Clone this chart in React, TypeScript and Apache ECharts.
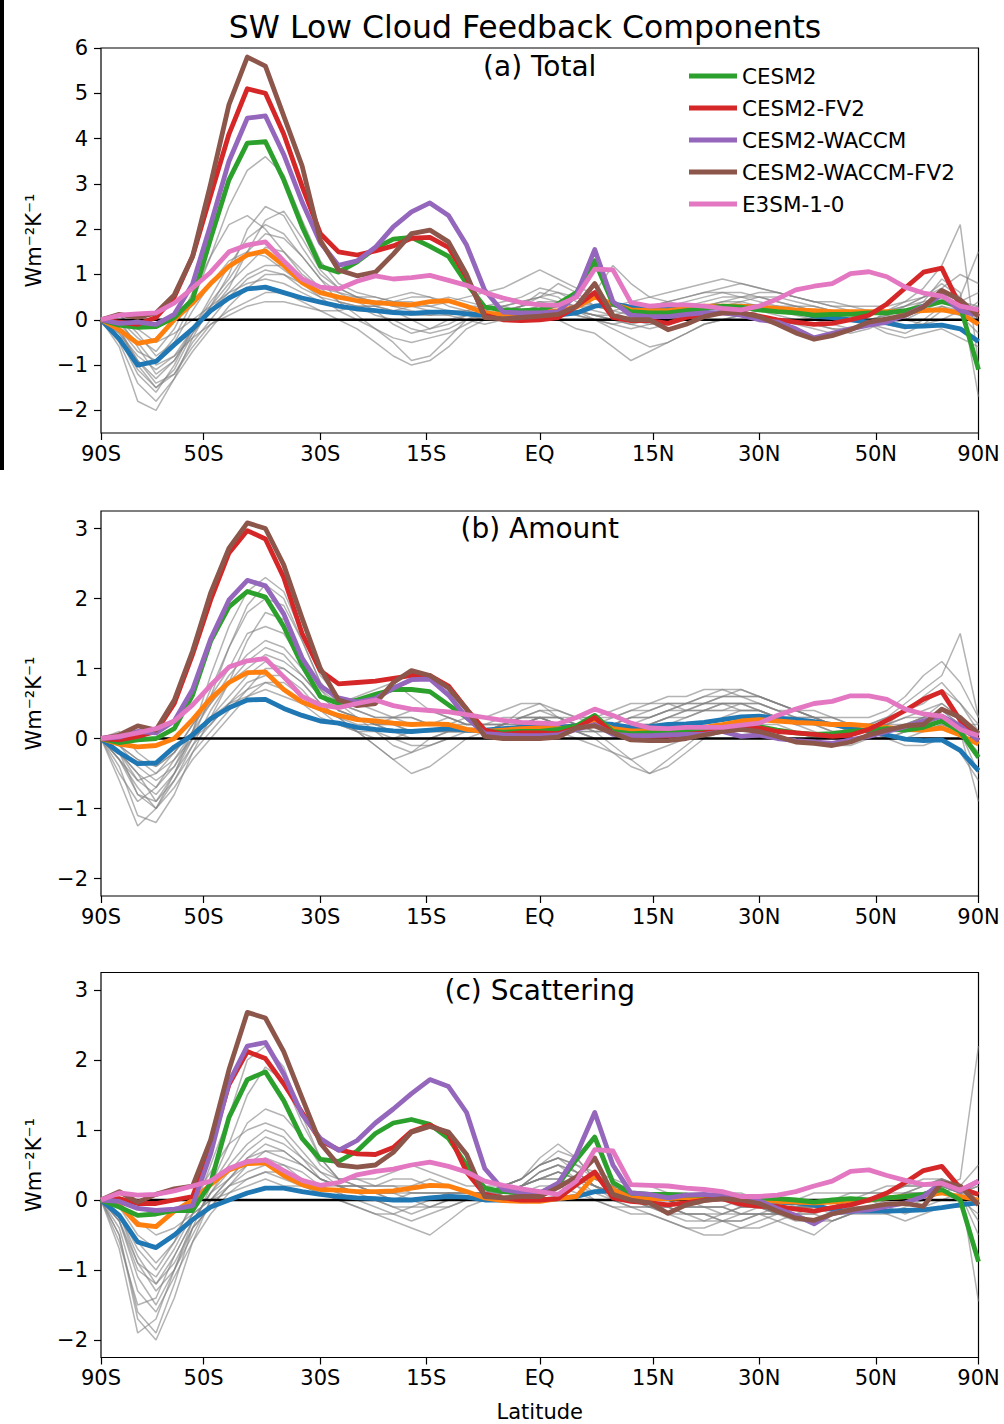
import React, { useEffect, useRef } from "react";
import * as echarts from "echarts";

// latitude grid (degrees), roughly evenly spaced in sin(latitude)
const lats = [-90,-73.4,-66.4,-61.0,-56.4,-52.3,-48.6,-45.1,-41.8,-38.7,-35.7,-32.8,-30,-27.3,-24.6,-22.0,-19.5,-17.0,-14.5,-12.0,-9.6,-7.2,-4.8,-2.4,0,2.4,4.8,7.2,9.6,12.0,14.5,17.0,19.5,22.0,24.6,27.3,30,32.8,35.7,38.7,41.8,45.1,48.6,52.3,56.4,61.0,66.4,73.4,90];

const latTicks = [-90,-50,-30,-15,0,15,30,50,90];
const latTickLabels = ["90S","50S","30S","15S","EQ","15N","30N","50N","90N"];
const yTicksTotal = [-2,-1,0,1,2,3,4,5,6];
const yTicksComp = [-2,-1,0,1,2,3];

const modelNames = ["CESM2","CESM2-FV2","CESM2-WACCM","CESM2-WACCM-FV2","E3SM-1-0"];
const modelColors = ["#2ca02c","#d62728","#9467bd","#8c564b","#e377c2"];
const panelTitles = ["(a) Total","(b) Amount","(c) Scattering"];

// ---------- (a) Total ----------
const blueTotal = [0,-0.42,-1.0,-0.92,-0.55,-0.2, 0.2,0.48,0.68,0.72,0.6,0.48, 0.39,0.3,0.24,0.2,0.16,0.14, 0.17,0.17,0.13,0.1,0.07,0.07, 0.07, 0.1,0.15,0.3,0.35,0.28,0.25, 0.23,0.25,0.25,0.27,0.3,0.28, 0.22,0.18,0.08,0.05,0.0,-0.05, -0.07,-0.15,-0.14,-0.12,-0.2,-0.48];
const orangeTotal = [0,-0.22,-0.52,-0.45,0.0,0.37, 0.8,1.18,1.43,1.52,1.2,0.82, 0.6,0.5,0.42,0.38,0.35,0.33, 0.4,0.42,0.3,0.15,0.12,0.15, 0.17, 0.2,0.28,0.5,0.35,0.22,0.2, 0.2,0.25,0.3,0.3,0.3,0.28, 0.25,0.22,0.2,0.18,0.18,0.18, 0.18,0.18,0.2,0.22,0.15,-0.1];
const cesm2Total = [0,-0.12,-0.17,-0.15,0.05,0.45, 1.79,3.09,3.9,3.93,3.09,2.06, 1.18,1.05,1.28,1.58,1.78,1.82, 1.62,1.4,0.8,0.28,0.22,0.2, 0.22, 0.35,0.6,1.3,0.35,0.18,0.15, 0.15,0.2,0.25,0.3,0.28,0.22, 0.18,0.15,0.1,0.12,0.12,0.15, 0.15,0.2,0.3,0.4,0.3,-1.1];
const fv2Total = [0,-0.05,-0.1,0.05,0.5,1.4, 2.75,4.1,5.1,5.0,4.1,2.95, 1.9,1.5,1.43,1.52,1.63,1.8, 1.82,1.6,0.95,0.1,0.0,-0.02, 0.0, 0.05,0.3,0.6,0.05,-0.02,-0.02, -0.08,0.05,0.12,0.15,0.15,0.08, 0.0,-0.05,-0.1,-0.08,0.0,0.1, 0.35,0.7,1.05,1.14,0.3,0.15];
const waccmTotal = [0,-0.08,-0.05,-0.1,0.12,0.79, 2.1,3.5,4.45,4.5,3.65,2.6, 1.7,1.2,1.3,1.6,2.05,2.38, 2.58,2.3,1.65,0.65,0.17,0.15, 0.15, 0.18,0.55,1.55,0.4,0.1,0.07, 0.07,0.12,0.15,0.15,0.1,0.0, -0.05,-0.2,-0.4,-0.3,-0.2,-0.12, -0.05,0.1,0.3,0.55,0.2,0.1];
const waccmFv2Total = [0,0.12,0.05,0.15,0.55,1.4, 3.0,4.75,5.8,5.6,4.5,3.4, 1.75,1.1,0.97,1.05,1.45,1.9, 1.98,1.72,1.0,0.05,0.02,0.05, 0.08, 0.12,0.3,0.8,0.1,0.0,0.0, -0.22,-0.1,0.07,0.15,0.15,0.07, -0.1,-0.29,-0.43,-0.35,-0.22,-0.05, 0.02,0.1,0.28,0.65,0.44,0.07];
const e3smTotal = [0,0.1,0.13,0.15,0.37,0.7, 1.05,1.5,1.65,1.72,1.3,0.9, 0.72,0.68,0.85,0.97,0.9,0.93, 0.98,0.87,0.76,0.6,0.48,0.38, 0.33, 0.32,0.5,1.12,1.1,0.38,0.3, 0.33,0.33,0.3,0.25,0.22,0.3, 0.46,0.66,0.74,0.8,1.02,1.06, 0.95,0.72,0.59,0.52,0.3,0.22];
const grayTotal = [
  [0,-0.4,-1.2,-1.6,-1.0,-0.2, 0.5,1.2,1.8,2.1,1.9,1.4,0.9, 0.6,0.4,0.2,-0.1,-0.3,-0.2,0.0,0.1, 0.2,0.3,0.4,0.5,0.6,0.5,0.3, 0.2,0.1,0.0,-0.1,0.0,0.2,0.3,0.4,0.5,0.5,0.4,0.3,0.2,0.1,0.0, 0.1,0.2,0.3,0.6,0.4,0.3],
  [0,-0.6,-1.8,-2.0,-1.3,-0.4, 0.3,1.0,2.0,2.5,2.3,1.6,1.0, 0.7,0.5,0.3,0.2,0.0,-0.2,-0.1,0.1, 0.1,0.0,0.1,0.2,0.3,0.2,0.1, 0.0,-0.1,-0.2,-0.1,0.1,0.2,0.3,0.3,0.2,0.1,0.0,-0.1,-0.2,-0.3,-0.2, 0.0,0.2,0.4,0.9,0.6,-1.7],
  [0,-0.2,-0.7,-0.9,-0.4,0.4, 1.4,2.5,3.3,3.6,3.2,2.2,1.3, 0.8,0.6,0.5,0.4,0.3,0.4,0.5,0.4, 0.3,0.2,0.3,0.5,0.8,0.6,0.3, 0.2,0.3,0.3,0.4,0.5,0.6,0.7,0.8,0.7,0.6,0.5,0.4,0.3,0.2,0.1, 0.2,0.3,0.5,0.8,0.5,1.5],
  [0,-0.3,-0.9,-1.4,-1.2,-0.6, -0.1,0.2,0.4,0.6,0.6,0.4,0.2, 0.0,-0.2,-0.5,-0.8,-1.0,-0.9,-0.6,-0.2, 0.0,0.1,0.3,0.6,0.5,0.2,0.0, -0.2,-0.4,-0.6,-0.5,-0.3,-0.1,0.0,0.1,0.2,0.2,0.1,0.0,-0.1,-0.2,-0.1, 0.0,0.1,0.2,0.4,0.2,0.0],
  [0,0.1,-0.3,-0.8,-0.5,0.2, 0.8,1.3,1.5,1.4,1.1,0.8,0.6, 0.5,0.5,0.4,0.5,0.6,0.5,0.3,0.2, 0.1,0.2,0.3,0.4,0.4,0.3,0.2, 0.1,0.2,0.3,0.4,0.5,0.6,0.6,0.5,0.5,0.4,0.3,0.3,0.2,0.2,0.1, 0.2,0.3,0.4,0.5,0.3,0.2],
  [0,-0.2,-1.0,-1.5,-1.1,-0.3, 0.2,0.7,1.5,2.2,2.4,1.8,1.1, 0.7,0.5,0.4,0.3,0.3,0.2,0.1,0.0, -0.1,0.0,0.2,0.3,0.2,0.1,0.0, -0.1,0.0,0.1,0.2,0.3,0.3,0.2,0.1,0.1,0.0,-0.1,-0.2,-0.3,-0.2,-0.1, 0.2,0.4,0.7,1.2,2.1,-1.0],
  [0,-0.5,-1.4,-1.8,-1.3,-0.7, -0.2,0.3,0.7,1.0,1.0,0.8,0.5, 0.2,0.0,-0.2,-0.4,-0.5,-0.4,-0.3,-0.1, 0.1,0.2,0.2,0.3,0.3,0.2,0.1, 0.0,-0.1,0.0,0.1,0.2,0.3,0.4,0.4,0.3,0.3,0.2,0.1,0.1,0.0,-0.1, -0.2,-0.3,-0.1,0.2,0.1,0.4],
  [0,0.1,-0.2,-0.5,-0.3,0.0, 0.3,0.6,0.8,0.9,0.8,0.6,0.4, 0.3,0.2,0.2,0.2,0.3,0.3,0.4,0.5, 0.6,0.7,0.9,1.1,0.9,0.7,0.6, 1.2,0.8,0.5,0.4,0.3,0.3,0.4,0.5,0.6,0.6,0.5,0.4,0.4,0.3,0.3, 0.3,0.4,0.5,0.7,1.0,0.8],
  [0,-0.1,-0.5,-1.0,-0.8,-0.2, 0.4,0.9,1.5,1.9,1.8,1.4,0.9, 0.4,0.1,-0.2,-0.5,-0.9,-0.8,-0.4,0.0, 0.2,0.3,0.2,0.1,0.0,-0.2,-0.3, -0.6,-0.9,-0.7,-0.5,-0.3,-0.1,0.0,0.1,0.2,0.3,0.3,0.2,0.1,0.0,0.0, -0.1,-0.2,0.0,0.3,0.2,0.1],
  [0,0.0,-0.6,-1.2,-0.9,-0.3, 0.2,0.6,1.0,1.2,1.2,0.9,0.6, 0.5,0.4,0.4,0.3,0.2,0.1,0.1,0.2, 0.3,0.3,0.4,0.5,0.4,0.3,0.3, 0.3,0.4,0.5,0.6,0.7,0.8,0.9,0.8,0.7,0.6,0.5,0.4,0.3,0.3,0.2, 0.1,0.0,-0.1,0.0,0.2,0.3],
  [0,-0.3,-0.8,-1.1,-0.8,-0.4, -0.1,0.1,0.3,0.4,0.4,0.3,0.2, 0.2,0.3,0.3,0.2,0.1,0.1,0.2,0.2, 0.1,0.0,0.0,0.1,0.2,0.1,0.0, -0.1,-0.2,-0.1,0.0,0.1,0.1,0.2,0.2,0.1,0.0,-0.1,-0.1,-0.2,-0.2,-0.1, -0.3,-0.4,-0.3,-0.2,-0.4,-0.6],
  [0,0.0,-0.4,-0.7,-0.2,0.6, 1.4,2.1,2.3,2.0,1.5,1.0,0.7, 0.6,0.5,0.5,0.4,0.4,0.3,0.2,0.1, 0.0,0.1,0.1,0.2,0.3,0.2,0.1, 0.1,0.0,-0.1,-0.1,0.0,0.1,0.2,0.3,0.3,0.2,0.2,0.1,0.0,0.0,0.1, 0.2,0.2,0.3,0.4,0.3,0.2],
  [0,-0.2,-0.9,-1.3,-0.9,-0.2, 0.3,0.8,1.2,1.6,1.5,1.1,0.7, 0.4,0.3,0.1,0.0,-0.2,-0.3,-0.2,0.0, 0.1,0.2,0.3,0.4,0.3,0.2,0.1, 0.0,0.1,0.2,0.3,0.3,0.4,0.5,0.5,0.4,0.3,0.2,0.2,0.1,0.0,-0.1, -0.1,0.0,0.2,0.3,0.1,-0.3],
  [0,-0.4,-1.1,-1.5,-1.2,-0.5, 0.0,0.5,0.9,1.1,1.0,0.7,0.5, 0.4,0.3,0.3,0.4,0.5,0.5,0.4,0.3, 0.3,0.4,0.5,0.7,0.6,0.4,0.3, 0.3,0.2,0.2,0.3,0.4,0.5,0.6,0.6,0.5,0.4,0.3,0.2,0.1,0.1,0.0, 0.1,0.3,0.5,0.6,0.4,0.6]
];

// ---------- (b) Amount ----------
const blueAmount = [0,-0.2,-0.36,-0.35,-0.12,0.05, 0.28,0.44,0.55,0.56,0.43,0.33, 0.25,0.22,0.16,0.13,0.11,0.1, 0.12,0.14,0.12,0.12,0.14,0.16, 0.17, 0.16,0.18,0.22,0.2,0.16,0.17, 0.2,0.21,0.23,0.27,0.31,0.32, 0.29,0.27,0.24,0.2,0.15,0.1, 0.05,-0.01,-0.03,-0.02,-0.17,-0.46];
const orangeAmount = [0,-0.08,-0.12,-0.1,0.0,0.27, 0.57,0.8,0.94,0.95,0.7,0.52, 0.42,0.33,0.27,0.25,0.22,0.2, 0.21,0.2,0.13,0.1,0.12,0.14, 0.15, 0.14,0.16,0.25,0.14,0.11,0.11, 0.12,0.13,0.16,0.2,0.25,0.27, 0.25,0.23,0.22,0.2,0.2,0.18, 0.16,0.13,0.12,0.15,0.05,-0.08];
const cesm2Amount = [0,-0.06,-0.02,0.0,0.14,0.62, 1.39,1.88,2.1,2.02,1.6,1.05, 0.6,0.5,0.55,0.63,0.7,0.7, 0.67,0.48,0.3,0.1,0.09,0.1, 0.1, 0.13,0.18,0.33,0.1,0.07,0.08, 0.08,0.1,0.12,0.15,0.16,0.17, 0.12,0.08,0.06,0.07,0.1,0.12, 0.14,0.12,0.16,0.25,0.1,-0.27];
const fv2Amount = [0,-0.02,0.03,0.1,0.5,1.2, 1.98,2.65,2.97,2.85,2.3,1.5, 0.97,0.78,0.8,0.82,0.86,0.9, 0.9,0.75,0.42,0.12,0.06,0.08, 0.08, 0.07,0.15,0.3,0.07,0.02,0.03, 0.04,0.06,0.08,0.12,0.15,0.15, 0.1,0.08,0.06,0.03,0.05,0.13, 0.26,0.4,0.56,0.67,0.26,-0.03];
const waccmAmount = [0,0.02,0.1,0.08,0.25,0.7, 1.42,1.98,2.26,2.18,1.78,1.15, 0.75,0.58,0.52,0.57,0.72,0.84, 0.85,0.62,0.3,0.07,0.05,0.04, 0.04, 0.05,0.13,0.2,0.06,0.04,0.04, 0.05,0.06,0.06,0.1,0.03,0.05, 0.0,-0.03,-0.05,-0.07,-0.02,0.03, 0.1,0.17,0.25,0.32,0.18,-0.03];
const waccmFv2Amount = [0,0.05,0.18,0.12,0.55,1.25, 2.08,2.72,3.08,3.0,2.48,1.72, 1.0,0.55,0.47,0.5,0.8,0.97, 0.9,0.72,0.42,0.03,0.0,0.0, 0.0, 0.02,0.15,0.18,0.08,-0.02,-0.03, -0.03,0.0,0.05,0.1,0.13,0.1, 0.03,-0.05,-0.07,-0.1,-0.05,0.05, 0.12,0.18,0.2,0.42,0.3,0.07];
const e3smAmount = [0,0.03,0.08,0.14,0.25,0.48, 0.76,1.02,1.11,1.14,0.88,0.6, 0.48,0.44,0.5,0.55,0.47,0.42, 0.4,0.38,0.34,0.3,0.26,0.23, 0.22, 0.21,0.3,0.42,0.33,0.22,0.15, 0.14,0.16,0.16,0.16,0.19,0.22, 0.33,0.42,0.5,0.53,0.61,0.61, 0.56,0.42,0.35,0.32,0.13,0.04];
const grayAmount = [
  [0,-0.4,-1.1,-1.2,-0.8,-0.2, 0.3,0.8,1.4,1.8,1.7,1.2,0.7, 0.4,0.3,0.2,0.1,0.0,0.0,0.1,0.1, 0.1,0.2,0.2,0.3,0.3,0.2,0.2, 0.2,0.3,0.3,0.4,0.4,0.5,0.5,0.5,0.4,0.3,0.3,0.2,0.2,0.2,0.1, 0.1,0.2,0.3,0.4,0.2,-0.3],
  [0,-0.2,-0.6,-0.8,-0.5,0.1, 0.9,1.6,2.1,2.3,2.1,1.5,0.9, 0.6,0.5,0.4,0.3,0.3,0.2,0.2,0.2, 0.2,0.2,0.3,0.3,0.2,0.2,0.1, 0.1,0.2,0.3,0.4,0.5,0.5,0.6,0.6,0.5,0.4,0.3,0.3,0.2,0.2,0.2, 0.3,0.5,0.7,0.9,1.5,0.3],
  [0,-0.1,-0.4,-0.6,-0.4,0.0, 0.3,0.6,0.9,1.1,1.0,0.8,0.5, 0.3,0.1,-0.1,-0.3,-0.5,-0.4,-0.2,0.0, 0.1,0.2,0.4,0.5,0.3,0.2,0.1, -0.1,-0.3,-0.5,-0.4,-0.2,0.0,0.1,0.2,0.3,0.3,0.2,0.1,0.0,0.0,0.0, 0.0,0.1,0.2,0.3,0.1,-0.9],
  [0,-0.3,-0.7,-1.0,-0.7,-0.3, 0.0,0.3,0.6,0.8,0.8,0.6,0.4, 0.3,0.2,0.2,0.1,0.1,0.1,0.1,0.1, 0.1,0.1,0.2,0.2,0.2,0.1,0.1, 0.1,0.2,0.2,0.3,0.3,0.4,0.4,0.4,0.4,0.3,0.3,0.2,0.2,0.1,0.1, 0.0,0.0,0.1,0.2,0.1,0.0],
  [0,-0.2,-0.5,-0.7,-0.4,0.1, 0.7,1.3,1.8,2.0,1.9,1.4,0.8, 0.5,0.4,0.3,0.3,0.2,0.2,0.3,0.2, 0.2,0.2,0.3,0.3,0.3,0.2,0.2, 0.3,0.4,0.5,0.6,0.6,0.7,0.7,0.6,0.6,0.5,0.4,0.4,0.3,0.3,0.3, 0.4,0.6,0.9,1.1,0.8,0.3],
  [0,-0.5,-0.9,-0.7,-0.3,0.1, 0.5,0.9,1.2,1.4,1.3,1.0,0.6, 0.4,0.3,0.2,0.2,0.1,0.1,0.2,0.3, 0.3,0.4,0.5,0.5,0.4,0.3,0.3, 0.3,0.4,0.4,0.5,0.5,0.5,0.6,0.6,0.6,0.5,0.4,0.3,0.3,0.2,0.2, 0.2,0.3,0.3,0.4,0.2,0.1],
  [0,-0.1,-0.3,-0.5,-0.3,0.0, 0.2,0.5,0.7,0.8,0.7,0.5,0.3, 0.2,0.1,0.1,0.0,-0.1,-0.1,0.0,0.0, 0.0,0.0,0.1,0.2,0.1,0.0,-0.1, -0.2,-0.3,-0.2,-0.1,0.0,0.1,0.1,0.2,0.2,0.2,0.1,0.0,-0.1,-0.1,0.0, 0.0,0.1,0.1,0.2,0.1,-0.5],
  [0,-0.3,-0.8,-0.9,-0.5,-0.1, 0.4,0.8,1.1,1.3,1.2,0.9,0.6, 0.5,0.6,0.7,0.8,0.6,0.4,0.3,0.2, 0.2,0.3,0.3,0.4,0.4,0.3,0.3, 0.4,0.5,0.5,0.5,0.4,0.4,0.4,0.5,0.5,0.4,0.3,0.3,0.2,0.2,0.1, 0.2,0.4,0.5,0.7,0.5,0.2],
  [0,-0.2,-0.5,-0.9,-0.6,-0.2, 0.1,0.4,0.7,1.0,1.0,0.8,0.5, 0.3,0.1,-0.1,-0.3,-0.2,0.0,0.1,0.1, 0.1,0.1,0.2,0.3,0.2,0.1,0.0, 0.0,0.0,0.1,0.2,0.3,0.4,0.5,0.5,0.5,0.4,0.4,0.3,0.2,0.2,0.2, 0.3,0.4,0.6,0.8,0.5,0.1],
  [0,0.1,-0.2,-0.4,-0.2,0.2, 0.5,0.8,1.0,1.2,1.1,0.9,0.6, 0.4,0.3,0.2,0.2,0.1,0.1,0.1,0.1, 0.1,0.1,0.2,0.2,0.2,0.1,0.1, 0.1,0.2,0.2,0.3,0.4,0.5,0.5,0.5,0.4,0.3,0.3,0.2,0.2,0.1,0.1, 0.0,-0.1,-0.1,0.0,-0.2,-0.6],
  [0,-0.6,-1.25,-1.0,-0.5,0.0, 0.6,1.3,1.9,2.2,2.0,1.4,0.8, 0.5,0.3,0.1,-0.1,-0.2,-0.1,0.0,0.1, 0.1,0.2,0.2,0.3,0.2,0.1,0.0, -0.2,-0.4,-0.5,-0.3,-0.1,0.1,0.3,0.4,0.4,0.3,0.2,0.2,0.1,0.1,0.1, 0.2,0.3,0.4,0.5,0.3,0.0],
  [0,-0.1,-0.3,-0.4,-0.2,0.1, 0.3,0.5,0.6,0.7,0.6,0.5,0.4, 0.3,0.3,0.2,0.3,0.4,0.4,0.3,0.2, 0.2,0.2,0.3,0.4,0.3,0.3,0.2, 0.2,0.3,0.3,0.4,0.5,0.6,0.7,0.7,0.6,0.5,0.4,0.3,0.3,0.2,0.2, 0.2,0.2,0.3,0.3,0.2,0.2],
  [0,-0.3,-0.6,-0.5,-0.2,0.2, 0.6,1.0,1.5,1.6,1.5,1.1,0.7, 0.5,0.4,0.3,0.3,0.3,0.2,0.2,0.1, 0.1,0.2,0.3,0.3,0.3,0.2,0.2, 0.2,0.3,0.4,0.5,0.5,0.6,0.6,0.7,0.6,0.5,0.4,0.3,0.2,0.2,0.1, 0.1,0.2,0.3,0.5,0.3,0.1],
  [0,-0.2,-0.8,-1.0,-0.6,-0.1, 0.2,0.5,0.8,0.9,0.9,0.7,0.4, 0.2,0.1,0.0,0.0,0.1,0.1,0.1,0.1, 0.1,0.1,0.2,0.3,0.2,0.1,0.0, 0.0,0.1,0.2,0.3,0.4,0.4,0.5,0.4,0.4,0.3,0.2,0.2,0.1,0.1,0.1, 0.1,0.1,0.2,0.3,0.1,-0.2]
];

// ---------- (c) Scattering ----------
const blueScat = [0,-0.22,-0.6,-0.68,-0.5,-0.28, -0.1,0.0,0.1,0.17,0.17,0.12, 0.08,0.05,0.03,0.02,0.0,0.0, 0.03,0.05,0.04,0.0,0.0,0.0, 0.0, 0.02,0.05,0.12,0.13,0.1,0.05, 0.04,0.03,0.03,0.03,0.02,0.0, -0.03,-0.04,-0.07,-0.14,-0.16,-0.16, -0.16,-0.15,-0.14,-0.11,-0.07,-0.04];
const orangeScat = [0,-0.07,-0.35,-0.38,-0.16,0.0, 0.22,0.43,0.52,0.53,0.35,0.22, 0.15,0.14,0.12,0.12,0.13,0.17, 0.21,0.2,0.12,0.03,-0.01,-0.02, -0.02, 0.02,0.05,0.35,0.15,0.03,0.02, 0.02,0.03,0.03,0.03,0.02,0.0, -0.02,-0.03,-0.04,-0.03,-0.01,0.0, 0.03,0.05,0.06,0.1,0.05,0.0];
const cesm2Scat = [0,-0.1,-0.22,-0.2,-0.15,-0.15, 0.24,1.18,1.72,1.83,1.42,0.88, 0.58,0.55,0.7,0.95,1.1,1.15, 1.08,0.88,0.5,0.17,0.12,0.1, 0.1, 0.22,0.58,0.9,0.25,0.1,0.08, 0.08,0.07,0.07,0.06,0.04,0.03, 0.02,0.0,-0.03,0.0,0.02,0.0, 0.03,0.05,0.08,0.15,0.0,-0.88];
const fv2Scat = [0,0.02,-0.05,-0.05,0.0,0.05, 0.75,1.65,2.12,2.02,1.66,1.25, 0.85,0.72,0.66,0.65,0.75,0.98, 1.07,0.95,0.4,0.08,0.03,0.0, 0.0, 0.02,0.22,0.4,0.03,-0.02,-0.04, -0.07,-0.04,0.0,0.02,-0.06,-0.09, -0.09,-0.13,-0.16,-0.11,-0.07,0.0, 0.1,0.25,0.42,0.48,0.17,0.08];
const waccmScat = [0,-0.02,-0.12,-0.15,-0.13,-0.08, 0.66,1.68,2.2,2.25,1.8,1.22, 0.88,0.71,0.85,1.1,1.3,1.52, 1.72,1.62,1.25,0.45,0.15,0.11, 0.1, 0.24,0.65,1.25,0.5,0.1,0.08, 0.03,0.07,0.08,0.06,0.03,-0.01, -0.12,-0.22,-0.34,-0.19,-0.16,-0.14, -0.09,-0.04,0.05,0.25,0.13,0.27];
const waccmFv2Scat = [0,0.12,-0.03,0.08,0.16,0.2, 0.86,1.86,2.68,2.6,2.12,1.46, 0.81,0.5,0.47,0.5,0.68,0.97, 1.05,0.97,0.65,0.05,0.03,0.05, 0.05, 0.18,0.33,0.6,0.08,0.0,-0.04, -0.19,-0.07,-0.01,0.02,0.0,-0.05, -0.16,-0.26,-0.29,-0.2,-0.14,-0.1, -0.06,-0.05,-0.09,0.25,0.2,-0.07];
const e3smScat = [0,0.1,0.07,0.08,0.13,0.2, 0.27,0.45,0.55,0.57,0.42,0.28, 0.21,0.25,0.36,0.41,0.44,0.5, 0.54,0.48,0.4,0.27,0.21,0.16, 0.12, 0.08,0.27,0.72,0.7,0.22,0.21, 0.2,0.17,0.15,0.12,0.05,0.05, 0.07,0.12,0.2,0.27,0.41,0.43, 0.35,0.28,0.22,0.24,0.14,0.27];
const grayScat = [
  [0,-0.5,-1.6,-1.9,-1.2,-0.4, 0.2,0.8,1.5,1.9,1.7,1.1,0.6, 0.3,0.2,0.1,0.0,0.0,-0.1,-0.1,0.0, 0.1,0.2,0.3,0.5,0.6,0.4,0.2, 0.1,0.0,-0.1,-0.1,-0.2,-0.2,-0.3,-0.3,-0.2,-0.2,-0.1,-0.1,-0.1,0.0,0.0, 0.0,0.1,0.1,0.2,0.3,2.2],
  [0,-0.3,-1.1,-1.5,-1.0,-0.3, 0.1,0.5,0.8,1.0,0.9,0.6,0.4, 0.3,0.3,0.2,0.2,0.2,0.3,0.2,0.1, 0.1,0.2,0.3,0.6,0.8,0.6,0.3, 0.2,0.1,0.1,0.0,0.0,-0.1,-0.1,-0.2,-0.2,-0.2,-0.1,-0.1,0.0,0.0,0.0, 0.1,0.1,0.2,0.3,0.2,-1.45],
  [0,-0.2,-0.8,-1.2,-0.9,-0.4, -0.1,0.2,0.4,0.5,0.5,0.3,0.2, 0.1,0.0,-0.1,-0.2,-0.3,-0.2,-0.1,0.0, 0.0,0.1,0.2,0.4,0.5,0.3,0.1, 0.0,-0.1,-0.2,-0.3,-0.4,-0.5,-0.5,-0.4,-0.3,-0.2,-0.1,-0.1,-0.1,0.0,0.0, -0.1,-0.2,-0.1,0.0,0.1,-0.3],
  [0,-0.4,-1.3,-1.6,-1.1,-0.6, -0.2,0.1,0.3,0.4,0.4,0.3,0.2, 0.2,0.1,0.1,0.1,0.0,0.0,0.1,0.1, 0.1,0.1,0.2,0.3,0.4,0.3,0.2, 0.1,0.0,-0.1,-0.1,0.0,0.0,0.1,0.0,-0.1,-0.2,-0.2,-0.3,-0.3,-0.2,-0.2, -0.2,-0.1,0.0,0.1,0.0,0.1],
  [0,-0.2,-0.6,-0.9,-0.6,-0.2, 0.5,1.2,2.0,2.2,1.9,1.2,0.6, 0.3,0.2,0.2,0.2,0.1,0.1,0.1,0.0, 0.0,0.1,0.2,0.4,0.5,0.4,0.2, 0.1,0.1,0.1,0.0,-0.1,-0.1,-0.2,-0.2,-0.1,-0.1,0.0,0.0,0.0,0.1,0.1, 0.1,0.2,0.2,0.2,0.1,0.2],
  [0,-0.1,-0.5,-0.7,-0.5,-0.1, 0.2,0.6,1.1,1.3,1.2,0.9,0.5, 0.3,0.3,0.3,0.4,0.5,0.4,0.3,0.2, 0.2,0.2,0.3,0.5,0.6,0.5,0.4, 0.3,0.2,0.2,0.1,0.1,0.0,0.0,-0.1,-0.1,0.0,0.0,0.1,0.1,0.1,0.1, 0.2,0.2,0.3,0.3,0.2,0.0],
  [0,-0.3,-0.9,-1.1,-0.7,-0.2, 0.0,0.2,0.3,0.4,0.3,0.2,0.1, 0.0,-0.1,-0.2,-0.3,-0.4,-0.5,-0.3,-0.1, 0.0,0.1,0.2,0.3,0.3,0.2,0.0, -0.1,-0.2,-0.2,-0.3,-0.4,-0.4,-0.3,-0.3,-0.2,-0.3,-0.4,-0.5,-0.3,-0.2,-0.1, -0.2,-0.3,-0.2,-0.1,-0.1,0.0],
  [0,-0.6,-1.5,-1.4,-0.8,-0.3, 0.1,0.3,0.6,0.7,0.6,0.5,0.3, 0.2,0.2,0.1,0.1,0.2,0.2,0.2,0.1, 0.1,0.2,0.3,0.5,0.7,0.6,0.3, 0.2,0.1,0.0,0.0,-0.1,-0.1,-0.1,0.0,0.0,-0.1,-0.2,-0.2,-0.1,-0.1,0.0, 0.0,0.1,0.2,0.3,0.1,0.2],
  [0,-0.1,-0.3,-0.5,-0.4,-0.2, 0.0,0.1,0.2,0.3,0.2,0.2,0.1, 0.0,-0.1,-0.2,-0.2,-0.1,-0.1,0.0,0.0, 0.0,0.0,0.1,0.2,0.2,0.1,0.0, -0.1,-0.1,-0.1,-0.2,-0.2,-0.3,-0.3,-0.2,-0.2,-0.2,-0.1,-0.1,-0.2,-0.2,-0.1, -0.1,0.0,0.1,0.1,0.0,-0.2],
  [0,-0.2,-0.7,-1.0,-0.6,0.0, 0.4,0.8,1.0,1.1,1.0,0.7,0.4, 0.2,0.2,0.2,0.3,0.3,0.2,0.2,0.1, 0.1,0.1,0.2,0.3,0.4,0.3,0.2, 0.1,0.1,0.1,0.1,0.0,0.0,0.1,0.1,0.0,0.0,-0.1,-0.1,0.0,0.0,0.1, 0.1,0.2,0.2,0.3,0.2,0.1],
  [0,-0.7,-1.9,-1.7,-1.0,-0.4, -0.1,0.2,0.5,0.7,0.7,0.5,0.3, 0.2,0.1,0.0,-0.1,-0.1,0.0,0.1,0.1, 0.1,0.2,0.3,0.5,0.6,0.5,0.3, 0.2,0.1,0.0,-0.1,-0.2,-0.2,-0.3,-0.4,-0.4,-0.3,-0.2,-0.2,-0.3,-0.2,-0.1, -0.1,0.0,0.0,0.1,0.2,0.5],
  [0,-0.2,-0.9,-1.3,-1.0,-0.5, 0.0,0.3,0.6,0.8,0.7,0.5,0.3, 0.2,0.2,0.1,0.1,0.1,0.1,0.1,0.1, 0.1,0.1,0.2,0.3,0.4,0.3,0.2, 0.1,0.1,0.0,0.0,-0.1,-0.1,-0.1,-0.2,-0.2,-0.1,-0.1,0.0,0.0,0.0,0.0, 0.0,0.0,0.1,0.2,0.1,0.0],
  [0,-0.5,-1.7,-2.0,-1.4,-0.6, 0.0,0.3,0.5,0.6,0.5,0.4,0.2, 0.1,0.0,0.0,-0.1,-0.2,-0.1,0.0,0.0, 0.0,0.1,0.2,0.4,0.5,0.4,0.2, 0.0,-0.1,-0.1,-0.2,-0.3,-0.3,-0.2,-0.1,-0.1,-0.2,-0.3,-0.3,-0.2,-0.1,-0.1, 0.0,0.0,0.1,0.2,0.1,-0.5],
  [0,-0.3,-1.0,-1.2,-0.8,-0.3, 0.1,0.4,0.7,0.9,0.8,0.6,0.3, 0.2,0.1,0.1,0.0,0.1,0.1,0.1,0.1, 0.1,0.1,0.2,0.3,0.3,0.2,0.1, 0.1,0.0,-0.1,-0.1,-0.2,-0.2,-0.2,-0.1,-0.1,-0.2,-0.2,-0.1,-0.1,0.0,0.0, 0.0,0.1,0.1,0.2,0.1,0.1]
];

const panels = [
  { grays: grayTotal, blue: blueTotal, orange: orangeTotal, models: [cesm2Total, fv2Total, waccmTotal, waccmFv2Total, e3smTotal], yMin: -2.5, yMax: 6, yTicks: yTicksTotal },
  { grays: grayAmount, blue: blueAmount, orange: orangeAmount, models: [cesm2Amount, fv2Amount, waccmAmount, waccmFv2Amount, e3smAmount], yMin: -2.25, yMax: 3.25, yTicks: yTicksComp },
  { grays: grayScat, blue: blueScat, orange: orangeScat, models: [cesm2Scat, fv2Scat, waccmScat, waccmFv2Scat, e3smScat], yMin: -2.25, yMax: 3.25, yTicks: yTicksComp },
];

const FONT = "DejaVu Sans";
const GRID_LEFT = 101;
const GRID_WIDTH = 877.5;
const GRID_HEIGHT = 385;
const GRID_TOPS = [48, 511, 972.5];
const TITLE_YS = [66, 528, 990];

const toRad = (d: number) => (d * Math.PI) / 180;
const sinLat = (d: number) => Math.sin(toRad(d));
const toData = (vals: number[]) => lats.map((lat, i) => [sinLat(lat), vals[i]]);
const fmtY = (v: number) => (v < 0 ? "\u2212" + Math.abs(v) : String(v));
const xTickVals = latTicks.map(sinLat);
const fmtX = (v: number) => {
  let best = 0;
  let bd = Infinity;
  xTickVals.forEach((t, i) => {
    const d = Math.abs(t - v);
    if (d < bd) { bd = d; best = i; }
  });
  return latTickLabels[best];
};

function buildOption() {
  const grid: any[] = [];
  const xAxis: any[] = [];
  const yAxis: any[] = [];
  const series: any[] = [];
  const graphic: any[] = [];

  panels.forEach((p, pi) => {
    grid.push({ left: GRID_LEFT, top: GRID_TOPS[pi], width: GRID_WIDTH, height: GRID_HEIGHT, show: true, borderColor: "#000", borderWidth: 1.2, backgroundColor: "transparent", containLabel: false });
    xAxis.push({
      type: "value", gridIndex: pi, min: -1, max: 1,
      axisLine: { show: false, onZero: false },
      axisTick: { show: true, inside: false, length: 7, lineStyle: { color: "#000", width: 1.2 }, customValues: xTickVals },
      axisLabel: { show: true, customValues: xTickVals, formatter: fmtX, fontFamily: FONT, fontSize: 21, color: "#000", margin: 10 },
      splitLine: { show: false },
    });
    yAxis.push({
      type: "value", gridIndex: pi, min: p.yMin, max: p.yMax,
      name: "Wm\u207B\u00B2K\u207B\u00B9", nameLocation: "middle", nameGap: 57, nameRotate: 90,
      nameTextStyle: { fontFamily: FONT, fontSize: 21, color: "#000" },
      axisLine: { show: false, onZero: false },
      axisTick: { show: true, inside: false, length: 7, lineStyle: { color: "#000", width: 1.2 }, customValues: p.yTicks },
      axisLabel: { show: true, customValues: p.yTicks, formatter: fmtY, fontFamily: FONT, fontSize: 21, color: "#000", margin: 13 },
      splitLine: { show: false },
    });

    p.grays.forEach((g, gi) => {
      series.push({
        type: "line", name: `model-${pi}-${gi}`, xAxisIndex: pi, yAxisIndex: pi,
        data: toData(g), showSymbol: false, symbol: "none", silent: true, z: 1,
        color: "#888888",
        lineStyle: { color: "#808080", width: 1.5, opacity: 0.6 },
      });
    });
    series.push({
      type: "line", name: `zero-${pi}`, xAxisIndex: pi, yAxisIndex: pi,
      data: [[-1, 0], [1, 0]], showSymbol: false, symbol: "none", silent: true, z: 2,
      color: "#000", lineStyle: { color: "#000", width: 2.6 },
    });
    series.push({
      type: "line", name: `mean-${pi}`, xAxisIndex: pi, yAxisIndex: pi,
      data: toData(p.blue), showSymbol: false, symbol: "none", silent: true, z: 3,
      color: "#1f77b4", lineStyle: { color: "#1f77b4", width: 4.8, join: "round" },
    });
    series.push({
      type: "line", name: `median-${pi}`, xAxisIndex: pi, yAxisIndex: pi,
      data: toData(p.orange), showSymbol: false, symbol: "none", silent: true, z: 3,
      color: "#ff7f0e", lineStyle: { color: "#ff7f0e", width: 4.8, join: "round" },
    });
    p.models.forEach((m, mi) => {
      series.push({
        type: "line", name: modelNames[mi], xAxisIndex: pi, yAxisIndex: pi,
        data: toData(m), showSymbol: false, symbol: "none", silent: true, z: 3,
        color: modelColors[mi], lineStyle: { color: modelColors[mi], width: 4.8, join: "round" },
      });
    });

    graphic.push({
      type: "text", x: GRID_LEFT + GRID_WIDTH / 2, y: TITLE_YS[pi], silent: true,
      style: { text: panelTitles[pi], fontFamily: FONT, fontSize: 28, fill: "#000", textAlign: "center", textVerticalAlign: "middle" },
    });
  });

  graphic.push({
    type: "text", x: 525, y: 27, silent: true,
    style: { text: "SW Low Cloud Feedback Components", fontFamily: FONT, fontSize: 31.5, fill: "#000", textAlign: "center", textVerticalAlign: "middle" },
  });
  graphic.push({
    type: "text", x: GRID_LEFT + GRID_WIDTH / 2, y: 1412, silent: true,
    style: { text: "Latitude", fontFamily: FONT, fontSize: 21, fill: "#000", textAlign: "center", textVerticalAlign: "middle" },
  });
  // dark strip along the left edge of the original image
  graphic.push({
    type: "rect", silent: true,
    shape: { x: 0, y: 0, width: 4, height: 470 },
    style: { fill: "#000" },
  });

  return {
    animation: false,
    backgroundColor: "#ffffff",
    textStyle: { fontFamily: FONT },
    grid, xAxis, yAxis, series, graphic,
    legend: {
      data: modelNames, orient: "vertical", left: 689, top: 65, padding: 0,
      itemWidth: 48, itemHeight: 5, itemGap: 10, icon: "rect", selectedMode: false,
      textStyle: { fontFamily: FONT, fontSize: 21.5, color: "#000", lineHeight: 22 },
    },
  };
}

export default function App() {
  const ref = useRef<HTMLDivElement>(null);
  useEffect(() => {
    if (!ref.current) return;
    const chart = echarts.init(ref.current, undefined, { renderer: "svg" });
    chart.setOption(buildOption() as any);
    return () => chart.dispose();
  }, []);
  return <div ref={ref} style={{ position: "absolute", left: 0, top: 0, width: 1004, height: 1424 }} />;
}
